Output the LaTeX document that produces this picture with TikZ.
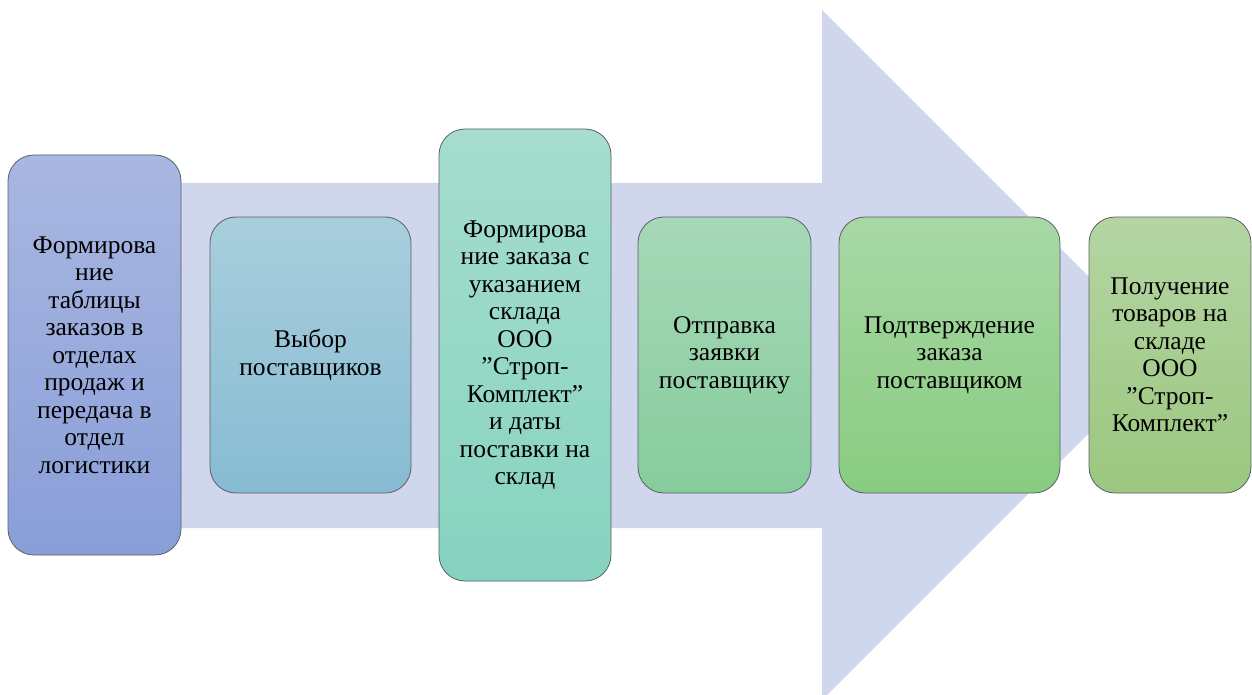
\documentclass[tikz,border=0pt]{standalone}
\usepackage{fontspec}
\setmainfont{LiberationSerif}[Extension=.ttf,UprightFont=*-Regular,BoldFont=*-Bold]
\usetikzlibrary{positioning}
\definecolor{shaft}{HTML}{D0D6EC}
\definecolor{edge}{HTML}{5A5F66}
\definecolor{c1t}{HTML}{A9B7E1}\definecolor{c1b}{HTML}{899ED8}
\definecolor{c2t}{HTML}{A8CEDC}\definecolor{c2b}{HTML}{87BBD3}
\definecolor{c3t}{HTML}{A6DDCE}\definecolor{c3b}{HTML}{86D3BF}
\definecolor{c4t}{HTML}{A6D8B7}\definecolor{c4b}{HTML}{87CC9D}
\definecolor{c5t}{HTML}{A8D8A5}\definecolor{c5b}{HTML}{88CB80}
\definecolor{c6t}{HTML}{B4D5A3}\definecolor{c6b}{HTML}{9BC77F}
\newcommand\qm{\symbol{34}}
\tikzset{stage/.style={rectangle,rounded corners=26pt,draw=edge,line width=.8pt,
    align=center,inner sep=0pt,font=\rmfamily\fontsize{25.5}{27.5}\selectfont},
  s1/.style={stage,top color=c1t,bottom color=c1b},
  s2/.style={stage,top color=c2t,bottom color=c2b},
  s3/.style={stage,top color=c3t,bottom color=c3b},
  s4/.style={stage,top color=c4t,bottom color=c4b},
  s5/.style={stage,top color=c5t,bottom color=c5b},
  s6/.style={stage,top color=c6t,bottom color=c6b}}
\begin{document}
\begin{tikzpicture}[x=1pt,y=-1pt]
\useasboundingbox (0,0) rectangle (1252,695);
% big arrow behind the stages
\fill[shaft] (180,183)--(822,183)--(822,10)--(1167,355)--(822,700)--(822,528)--(180,528)--cycle;
\node[s1,minimum width=173pt,minimum height=400pt] (form) at (94.5,355)
 {Формирова\\ние\\таблицы\\заказов в\\отделах\\продаж и\\передача в\\отдел\\логистики};
\node[s2,minimum width=201pt,minimum height=276pt] (choose) at (310.5,355)
 {Выбор\\поставщиков};
\node[s3,minimum width=172pt,minimum height=452pt] (order) at (525,355)
 {Формирова\\ние заказа с\\указанием\\склада\\ООО\\\qm Строп-\\Комплект\qm\\и даты\\поставки на\\склад};
\node[s4,minimum width=173pt,minimum height=276pt] (send) at (724.5,355)
 {Отправка\\заявки\\поставщику};
\node[s5,minimum width=221pt,minimum height=276pt] (confirm) at (949.5,355)
 {Подтверждение\\заказа\\поставщиком};
\node[s6,minimum width=162pt,minimum height=276pt] (receive) at (1170,355)
 {Получение\\товаров на\\складе\\ООО\\\qm Строп-\\Комплект\qm};
\end{tikzpicture}
\end{document}
